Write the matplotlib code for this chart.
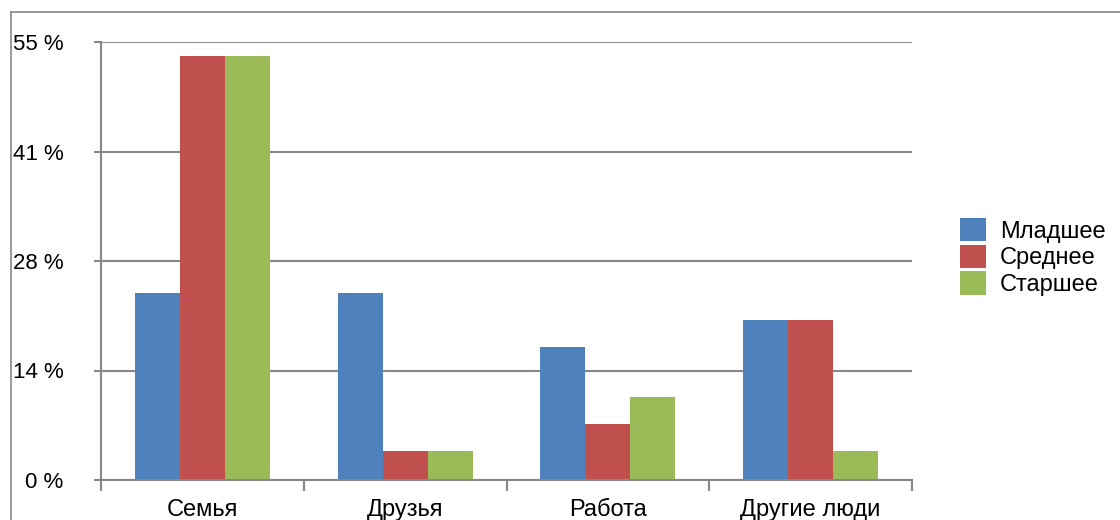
import matplotlib
matplotlib.use('Agg')
import matplotlib.pyplot as plt
from matplotlib.lines import Line2D
import numpy as np

categories = ['Семья', 'Друзья', 'Работа', 'Другие люди']
series = ['Младшее', 'Среднее', 'Старшее']
young = [23.5, 23.5, 16.7, 20.1]
middle = [53.3, 3.6, 7.0, 20.1]
old = [53.3, 3.6, 10.4, 3.6]
yticks = [0, 13.75, 27.5, 41.25, 55]
ylabels = ['0 %', '14 %', '28 %', '41 %', '55 %']

colors = ['#4F81BD', '#C0504D', '#9BBB59']
grid_c = '#878787'

plt.rcParams['font.family'] = ['Liberation Sans', 'DejaVu Sans']
fs = 17

fig = plt.figure(figsize=(11.2, 5.2), dpi=100)
ax = fig.add_axes([101 / 1120, 40 / 520, 811 / 1120, 438 / 520])

x = np.arange(len(categories))
w = 0.222
for k, (vals, c, name) in enumerate(zip([young, middle, old], colors, series)):
    ax.bar(x + (k - 1) * w, vals, width=w, color=c, label=name, zorder=3)

ax.set_xlim(-0.5, len(categories) - 0.5)
ax.set_ylim(0, 55)
ax.set_yticks(yticks)
ax.set_yticklabels(ylabels, fontsize=16)
ax.set_xticks(x)
ax.set_xticklabels(categories, fontsize=fs)
ax.set_xticks(np.arange(len(categories) + 1) - 0.5, minor=True)
ax.tick_params(axis='x', which='major', length=0, pad=14)
ax.tick_params(axis='x', which='minor', length=8, width=1.5, color=grid_c)
ax.tick_params(axis='y', length=5, width=1.5, color=grid_c, pad=22)

ax.grid(axis='y', color=grid_c, linewidth=1.5, zorder=0)
for s in ['top', 'right']:
    ax.spines[s].set_visible(False)
for s in ['left', 'bottom']:
    ax.spines[s].set_color(grid_c)
    ax.spines[s].set_linewidth(1.5)
    ax.spines[s].set_zorder(4)

fig.legend(loc='center left', bbox_to_anchor=(948 / 1120, 1 - 257 / 520),
           frameon=False, fontsize=fs, handlelength=1.1, handleheight=1.15,
           labelspacing=0.08, handletextpad=0.6, borderpad=0)

# outer chart border (partially visible)
fig.add_artist(Line2D([11 / 1120, 11 / 1120], [0, 1 - 12 / 520],
                      transform=fig.transFigure, color=grid_c, linewidth=1.2))
fig.add_artist(Line2D([11 / 1120, 1], [1 - 12 / 520, 1 - 12 / 520],
                      transform=fig.transFigure, color=grid_c, linewidth=1.2))

fig.savefig('out.png', dpi=100)
